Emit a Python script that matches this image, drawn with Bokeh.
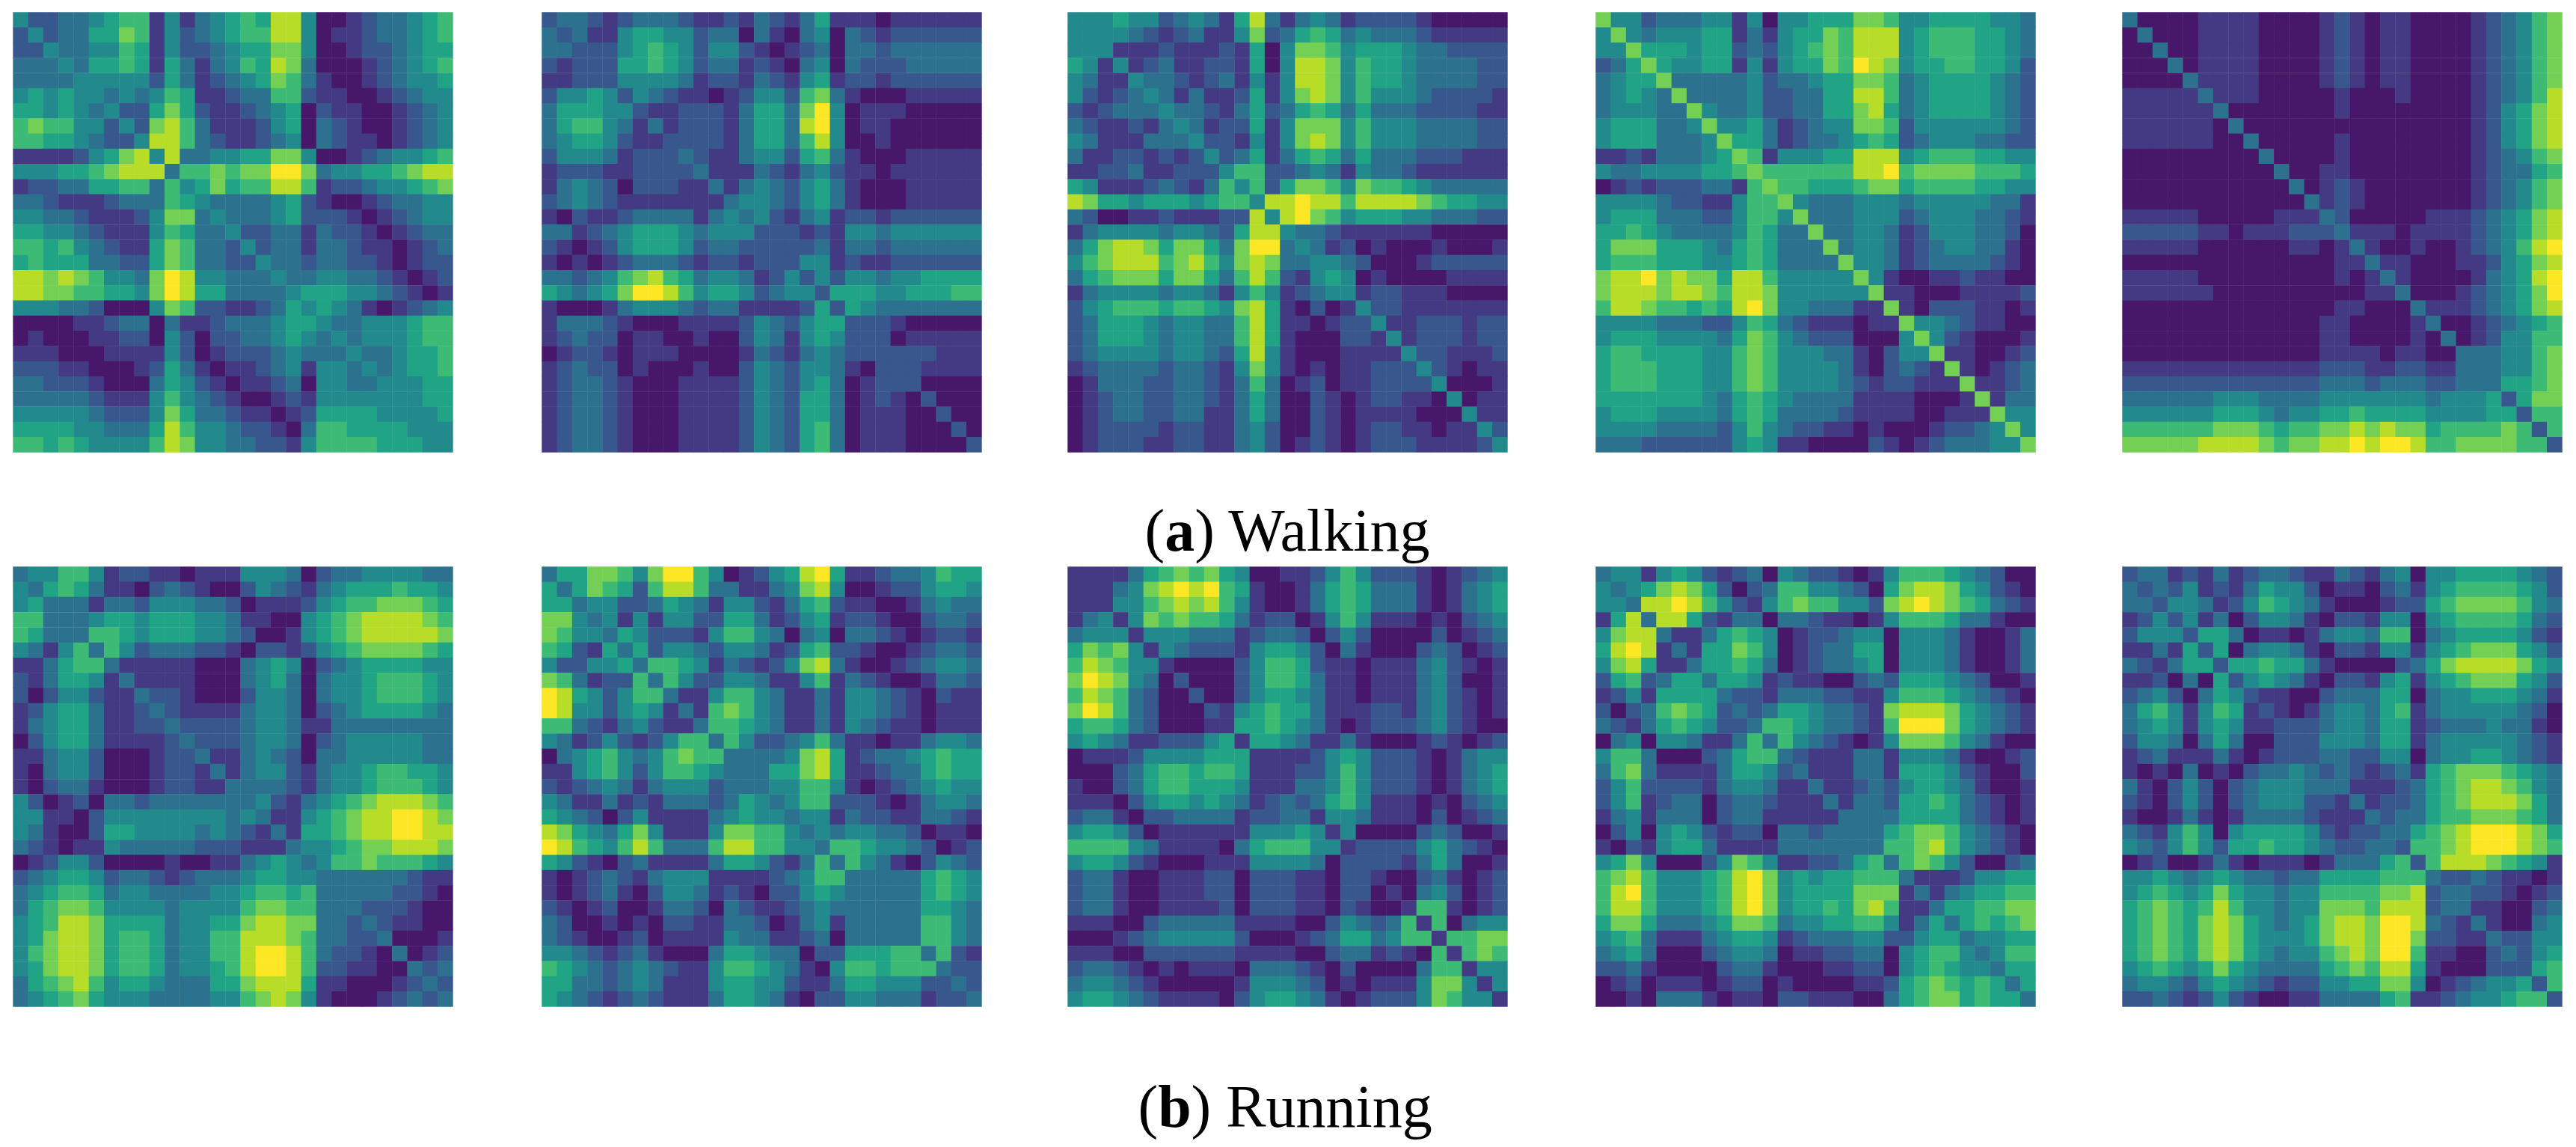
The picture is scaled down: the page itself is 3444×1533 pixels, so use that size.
import numpy as np
from bokeh.plotting import figure
from bokeh.models import Range1d
from bokeh.palettes import Viridis256
from bokeh.core.properties import value
from bokeh.embed import file_html
from bokeh.resources import INLINE

# Upper triangle of each symmetric 29x29 matrix, one string per row, digit = level 0..9
walking_1 = ["42233456614134565884001233456","4233557614234566884011233456","433446514223455774001223455","43556515313465873000123456","4444425312345763100123445","434346511233662110012344","42257521123450211001234","4278631112450321001234","488632112340321101234","48334455774001234456","3667677997344556788","457566886122344567","43333452100123344","4333452221012344","422331322101233","42331332110123","4332332210122","433443321012","45554432101","4543101234","433444566","43444566","4334556","434556","44455","4455","445","44","4"]
walking_2 = ["23321233321121321351110111111","2311455442330310340321222222","222456542442101230332333333","22556542331210340322233333","2444431221321451221222222","243211012442673100011111","21122213553794011100000","3122213553894011000000","222213553684001000000","32113442563100011111","3111321342110111111","313432453100011111","34432453100011111","3421341221222222","222121443444444","22231332333333","2441211222222","242443445555","25554455566","2543333333","222100000","22011111","2222111","221111","20000","2000","200","20","2"]
walking_3 = ["44454423431583134312222100000","4443212311472356534333211111","411121112150477645554332222","41231122150488746554333322","4332123141488746554333322","431311251478746444322221","43321352356535333222211","4312251477746444333322","422141478746444333322","42351356535333222111","4662234314332111111","462577647665433333","48898868888765544","4897645554433322","433211111100000","43120100010001","4432000122222","540100001111","41221110000","4221111111","411222122","41222122","4221112","421011","40001","4011","411","42","4"]
walking_4 = ["74423334414044555776445555443","7434445513145576888456665543","755545523245676888456665543","75445514145576987455665542","7333334233455776345555432","733334223355886345555432","74334223355785345555432","7445312344776244444432","755312334565234443322","76144455888456665544","7666666889677776665","766555677566665544","74333444344444331","7333444234443321","733443124443320","73443123443310","7443123333210","741001121100","71100011112","7102221101","744321100","74210001","7110012","710123","71123","7133","744","74","7"]
walking_5 = ["30000111100001210110000123467","3000111100001210110000123467","300111100001210110000123467","30111100001210110000123467","3111100001210110000123467","311100000100010000123468","30000000100000000124578","3000000000000000124578","300000100000000124578","30000100000000123467","3001100000000123356","301210000000123467","31210000000123467","3200000111234578","311101111234578","31001001234689","3110001124578","310000134589","30001234579","3111234578","300123456","30124466","3334467","334467","35567","2577","266","26","2"]
running_1 = ["34466412211011144430233444433","3565311023210024321345556554","333133244433201112456677765","33455455544311004567888876","3665455544320014567888887","364233322102212456777765","31111100034540234555544","3111100034530344566654","322100024430344566654","32111134430234555543","3222234431133333333","322234430234444433","31134320334444433","3134421344566554","333321344566654","34213456788876","3114567889987","315567889988","34456778887","3466766654","333333211","33332210","3222100","321100","30001","3012","323","32","3"]
running_2 = ["35577647996401245895112334655","3576526886331134784001224554","344223543144213562110013433","34141442255312451221002332","3542221466430340332101221","352443244312562210012332","36654132124783100123443","3642244311461321001332","311466431131443210211","31676431131443210111","3665431131432110111","364223463110113443","33334785123345655","3355785112335655","344664101234544","34662221013443","3441322113321","343443320110","36654432012","3643102432","333335654","33335654","3335543","336643","36643","3621","322","32","3"]
running_3 = ["11113567675400112464222101234","1134789896510013565333101345","144678786410013565333101345","14767665312201464111010234","1444333123320242000020123","143222145542031000232012","10000246652110111342101","2000246653110111342001","200245543110111342101","21456553111221342101","1556543101222342100","155431131000121012","11112454222101344","1122464222101345","133464222101345","23564111010234","1443111020123","140000232001","12222453210","2221353001","100231012","10342012","1661012","160344","16677","1676","144","14","1"]
running_4 = ["34414542123043221014666543200","3457875202366443205788754210","388986421467664427898765321","38852133033211014666533100","3113565401223440444310013","315576401233550444310013","35565301233450444310013","3554121100232555432001","322133322114666543210","32355433217888754321","3665433216999754321","364321014777643100","32111331444310012","3111331555421002","311232455431001","31332556532101","3333555532101","335677643210","36678643210","3676420023","311124455","31345566","3556677","356567","34455","3466","355","35","3"]
running_5 = ["23312131233211321340445555432","2324121354420110231456666542","244312465431000122567777643","24130244310221440456666532","2553011013443660345555421","250344310221441456777542","25565531000023578888754","2454310221451456777542","211002333550344555431","21013443561344444320","2223443551233343310","224443551344444321","23322440344554321","2321231567776543","311123567887643","31223567888753","3233566777653","335678999875","26678999876","2688876541","322321101","33221012","3110023","310034","32244","3245","256","26","2"]

caption_a = ["(", "a", ") Walking"]
caption_b = ["(", "b", ") Running"]

N = 29
WIN_W, WIN_H = 3444, 1533
FIG_W, FIG_H = 3428, 1530


def matrix(rows):
    bad = [(i, len(r)) for i, r in enumerate(rows) if len(r) != N - i]
    assert not bad, bad
    a = np.zeros((N, N))
    for i, r in enumerate(rows):
        for k, ch in enumerate(r):
            a[i, i + k] = a[i + k, i] = int(ch)
    return a


# data coordinates equal page pixels (y measured upward from the window bottom)
p = figure(width=FIG_W, height=FIG_H, output_backend="svg", toolbar_location=None,
           x_range=Range1d(0, FIG_W), y_range=Range1d(WIN_H - FIG_H, WIN_H),
           x_axis_location=None, y_axis_location=None, min_border=0,
           outline_line_color=None, background_fill_color="white", border_fill_color="white")
p.grid.visible = False

FONT = value("Liberation Serif")
SIZE_PX = 80
SIZE = value(f"{SIZE_PX}px")


def caption(parts, x0, baseline):
    bold_w = 0.5 if parts[1] == "a" else 0.556
    xs = [x0, x0 + 0.333 * SIZE_PX, x0 + (0.333 + bold_w) * SIZE_PX]
    styles = ["normal", "bold", "normal"]
    for t, x, st in zip(parts, xs, styles):
        p.text(x=[x], y=[WIN_H - baseline], text=[t], text_font=FONT, text_font_size=SIZE,
               text_font_style=st, text_color="black", text_baseline="alphabetic", text_align="left")


caption(caption_a, 1530, 708)
caption(caption_b, 1521, 1478)


def colour(level):
    return Viridis256[int(round((level + 0.6) / 9.6 * 255))]


lefts = [17, 724, 1427, 2133, 2837]
SIDE = 588
groups = [([walking_1, walking_2, walking_3, walking_4, walking_5], 16),
          ([running_1, running_2, running_3, running_4, running_5], 757)]
for panels, top in groups:
    for rows, left in zip(panels, lefts):
        a = matrix(rows)
        cell = SIDE / N
        ii, jj = np.meshgrid(np.arange(N), np.arange(N), indexing="ij")
        p.rect(x=(left + (jj.ravel() + 0.5) * cell).tolist(),
               y=(WIN_H - (top + (ii.ravel() + 0.5) * cell)).tolist(),
               width=cell + 0.4, height=cell + 0.4,
               fill_color=[colour(v) for v in a.ravel()],
               line_color=None)

open("out.html", "w").write(file_html(p, INLINE))
